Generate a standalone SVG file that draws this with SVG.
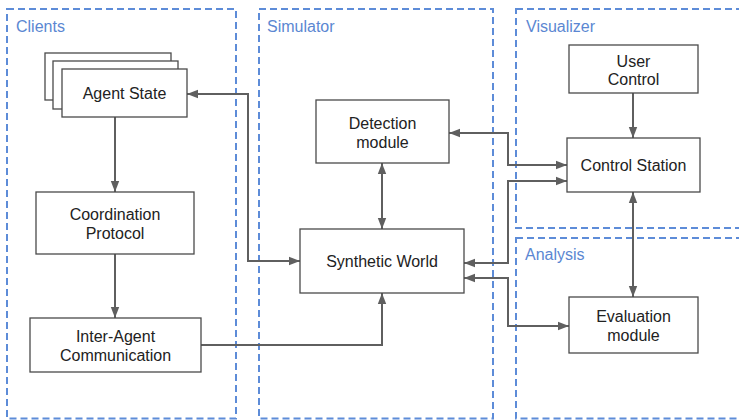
<svg xmlns="http://www.w3.org/2000/svg" width="739" height="420" viewBox="0 0 739 420">
<style>
.grp{fill:none;stroke:#5d8cd8;stroke-width:2;stroke-dasharray:7 4}
.glabel{font-family:"Liberation Sans",Arial,sans-serif;font-size:16px;fill:#5b87d2}
.box{fill:#fff;stroke:#4a4a4a;stroke-width:1.3}
.t{font-family:"Liberation Sans",Arial,sans-serif;font-size:16px;fill:#222;text-anchor:middle}
.c{fill:none;stroke:#5f5f5f;stroke-width:2;marker-end:url(#ah)}
.bi{marker-start:url(#ah)}
</style>
<defs>
<marker id="ah" markerUnits="userSpaceOnUse" markerWidth="11" markerHeight="10" viewBox="0 0 11 10" refX="11" refY="5" orient="auto-start-reverse">
<path d="M0,0.8 L11,5 L0,9.2 z" fill="#5f5f5f"/>
</marker>
</defs>
<rect width="739" height="420" fill="#fff"/>
<g id="groups">
<rect class="grp" x="7" y="9" width="229" height="409.5"/>
<rect class="grp" x="259" y="9" width="234" height="409.5"/>
<rect class="grp" x="516" y="9" width="240" height="219"/>
<rect class="grp" x="516" y="238" width="240" height="180.5"/>
<text class="glabel" x="16" y="32">Clients</text>
<text class="glabel" x="267" y="32">Simulator</text>
<text class="glabel" x="526" y="32">Visualizer</text>
<text class="glabel" x="525" y="260">Analysis</text>
</g>
<g id="connectors">
<path class="c bi" d="M187,94 H248 V261 H300"/>
<path class="c" d="M115,117 V192"/>
<path class="c" d="M115,254 V318"/>
<path class="c" d="M201,345 H382 V293"/>
<path class="c bi" d="M382,163 V229"/>
<path class="c bi" d="M449,133 H508 V165 H567"/>
<path class="c bi" d="M464,263 H508 V181 H567"/>
<path class="c bi" d="M464,278 H508 V326 H569"/>
<path class="c" d="M633,93 V138"/>
<path class="c bi" d="M633,192 V297"/>
</g>
<g id="agent-state">
<rect class="box" x="45" y="53" width="126" height="47"/>
<rect class="box" x="53" y="61" width="125" height="48"/>
<rect class="box" x="62" y="69" width="125" height="48"/>
<text class="t" x="124.5" y="99">Agent State</text>
</g>
<g id="coordination-protocol">
<rect class="box" x="36" y="192" width="158" height="62"/>
<text class="t" x="115" y="220">Coordination</text>
<text class="t" x="115" y="239">Protocol</text>
</g>
<g id="inter-agent-communication">
<rect class="box" x="30" y="318" width="171" height="54"/>
<text class="t" x="115.5" y="342">Inter-Agent</text>
<text class="t" x="115.5" y="361">Communication</text>
</g>
<g id="detection-module">
<rect class="box" x="316" y="100" width="133" height="63"/>
<text class="t" x="382.5" y="129">Detection</text>
<text class="t" x="382.5" y="148">module</text>
</g>
<g id="synthetic-world">
<rect class="box" x="300" y="229" width="164" height="64"/>
<text class="t" x="382" y="267">Synthetic World</text>
</g>
<g id="user-control">
<rect class="box" x="569" y="45" width="129" height="48"/>
<text class="t" x="633.5" y="67">User</text>
<text class="t" x="633.5" y="85">Control</text>
</g>
<g id="control-station">
<rect class="box" x="567" y="138" width="133" height="54"/>
<text class="t" x="633.5" y="171">Control Station</text>
</g>
<g id="evaluation-module">
<rect class="box" x="569" y="297" width="129" height="56"/>
<text class="t" x="633.5" y="322">Evaluation</text>
<text class="t" x="633.5" y="341">module</text>
</g>
</svg>
